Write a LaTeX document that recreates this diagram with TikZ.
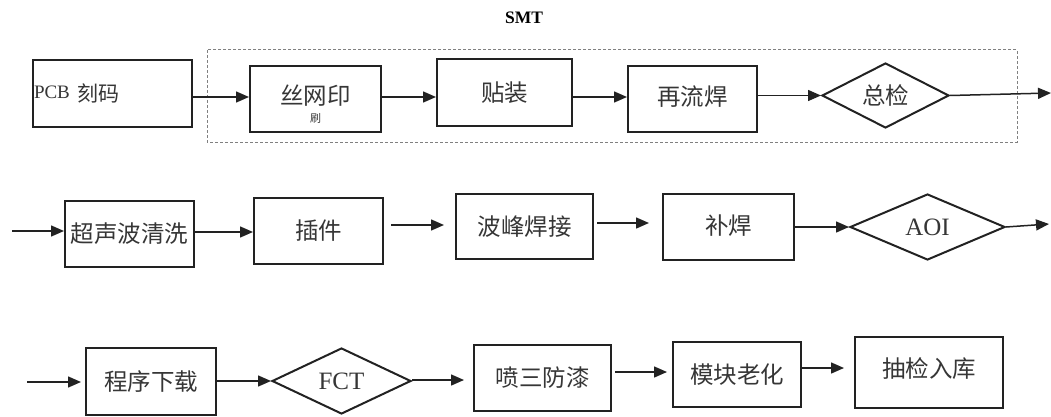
\documentclass[tikz,border=0pt]{standalone}
\usepackage{fontspec}
\setmainfont{Liberation Serif}
\newfontfamily\cjk{Noto Sans CJK SC}
\usetikzlibrary{shapes.geometric,arrows.meta}
\definecolor{ln}{HTML}{222222}
\definecolor{tx}{HTML}{363636}
\tikzset{
  box/.style={draw=ln,line width=2pt,inner sep=0pt,text=tx,font=\cjk\fontsize{23.5}{26}\selectfont},
  dia/.style={draw=ln,line width=2pt,diamond,inner sep=0pt,text=tx,font=\fontsize{25}{27}\selectfont},
  arr/.style={draw=ln,line width=1.5pt,-{Triangle[length=13pt,width=11pt]}},
  grp/.style={draw=gray,line width=1pt,dash pattern=on 3pt off 2pt},
}
\begin{document}
\begin{tikzpicture}[x=1pt,y=-1pt]
\useasboundingbox[fill=white] (0,0) rectangle (1051,417);
% SMT group
\node[font=\bfseries\fontsize{17.5}{19}\selectfont,text=black] (smt) at (524,18) {SMT};
\draw[grp] (207,50) rectangle (1017,142);
% Row 1
\node[box,minimum width=159pt,minimum height=67pt,text width=157pt,align=left] (pcb) at (112.5,93.5)
  {\raisebox{3pt}{\fontspec{Liberation Serif}\fontsize{19}{20}\selectfont PCB} {\fontsize{21}{22}\selectfont 刻码}};
\node[box,minimum width=131pt,minimum height=66pt] (silk) at (315.5,99) {\raisebox{8pt}{丝网印}};
\node[text=tx,font=\cjk\fontsize{11}{12}\selectfont] (silk2) at (315.5,118) {刷};
\node[box,minimum width=135pt,minimum height=67pt] (tz) at (504.5,92.5) {\raisebox{2pt}{贴装}};
\node[box,minimum width=129pt,minimum height=66pt] (rl) at (692.5,99) {\raisebox{7pt}{再流焊}};
\node[dia,font=\cjk\fontsize{23.5}{26}\selectfont,aspect=1.95,minimum width=127pt,minimum height=65pt] (zj) at (885.5,95.5) {总检};
\coordinate (out1) at (1051,93);
\draw[arr] (pcb.east) ++(0,3.5) -- (silk.west |- 0,97);
\draw[arr] (silk.east |- 0,97) -- (tz.west |- 0,97);
\draw[arr] (tz.east |- 0,97) -- (rl.west |- 0,97);
\draw[arr] (rl.east |- zj.west) -- (zj.west);
\draw[arr] (zj.east) -- (out1);
% Row 2
\coordinate (in2) at (12,231);
\node[box,minimum width=129pt,minimum height=66pt] (csb) at (129.5,234) {\raisebox{2pt}{超声波清洗}};
\node[box,minimum width=129pt,minimum height=66pt] (cj) at (318.5,231) {\raisebox{3pt}{插件}};
\node[box,minimum width=137pt,minimum height=65pt] (bf) at (524.5,226.5) {\raisebox{2pt}{波峰焊接}};
\node[box,minimum width=131pt,minimum height=66pt] (bh) at (728.5,227) {\raisebox{4pt}{补焊}};
\node[dia,aspect=2.35,minimum width=155pt,minimum height=66pt] (aoi) at (927.5,227) {AOI};
\coordinate (out2) at (1049,224);
\draw[arr] (in2) -- (csb.west |- in2);
\draw[arr] (csb.east |- 0,232) -- (cj.west |- 0,232);
\draw[arr,shorten <=7pt,shorten >=11pt] (cj.east |- 0,225) -- (bf.west |- 0,225);
\draw[arr,shorten <=3pt,shorten >=13pt] (bf.east |- 0,223) -- (bh.west |- 0,223);
\draw[arr] (bh.east |- aoi.west) -- (aoi.west);
\draw[arr] (aoi.east) -- (out2);
% Row 3
\coordinate (in3) at (27,382);
\node[box,minimum width=130pt,minimum height=67pt] (cx) at (151,381.5) {程序下载};
\node[dia,aspect=2.1,minimum width=139pt,minimum height=66pt] (fct) at (341.5,381) {FCT};
\node[box,minimum width=137pt,minimum height=66pt] (ps) at (542.5,378) {\raisebox{1pt}{喷三防漆}};
\node[box,minimum width=128pt,minimum height=65pt] (mk) at (737,374.5) {\raisebox{2pt}{模块老化}};
\node[box,minimum width=148pt,minimum height=71pt] (cjrk) at (929,372.5) {\raisebox{9pt}{抽检入库}};
\draw[arr,shorten >=4pt] (in3) -- (cx.west |- in3);
\draw[arr] (cx.east |- fct.west) -- (fct.west);
\draw[arr,shorten >=9pt] (fct.east |- 0,380) -- (ps.west |- 0,380);
\draw[arr,shorten <=3pt,shorten >=5pt] (ps.east |- 0,372) -- (mk.west |- 0,372);
\draw[arr,shorten >=10pt] (mk.east |- 0,368) -- (cjrk.west |- 0,368);
\end{tikzpicture}
\end{document}
